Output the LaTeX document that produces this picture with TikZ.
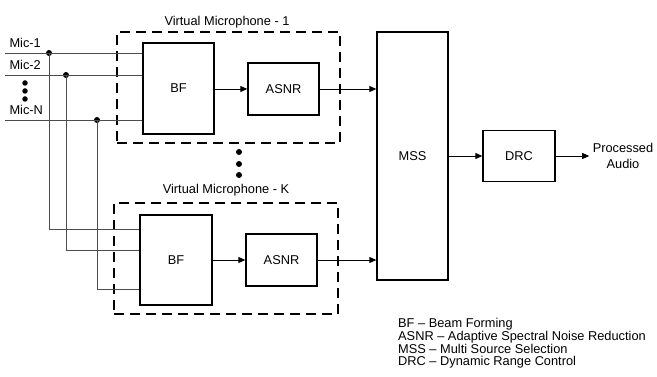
\documentclass[tikz,border=0pt]{standalone}
\usepackage{fontspec}
\setmainfont{Liberation Sans}
\usetikzlibrary{arrows.meta}

\begin{document}
\begin{tikzpicture}[x=1pt,y=-1pt,
        font=\fontsize{12.8}{11.8}\selectfont,
        block/.style={draw, line width=1.3pt, inner sep=0pt},
        vmbox/.style={draw, line width=1.6pt, dash pattern=on 10pt off 6pt, inner sep=0pt},
        wire/.style={line width=0.8pt, draw=black!70},
        sig/.style={line width=0.9pt, -{Triangle[length=7pt,width=6pt]}},
        junc/.style={circle, fill, inner sep=0pt, minimum size=6pt}]
        \useasboundingbox (0,0) rectangle (657,377);
        \node [vmbox, minimum width=223pt, minimum height=111pt] (vm1) at (228.5,87.5) {};
        \node [anchor=base] (vm1t) at (227,25.5) {Virtual Microphone - 1};
        \node [block, minimum width=71pt, minimum height=91pt] (bf1) at (178.5,88.5) {BF};
        \node [block, minimum width=71pt, minimum height=52pt] (asnr1) at (283.5,89) {ASNR};
        \node [vmbox, minimum width=224pt, minimum height=111pt] (vmk) at (226,258.5) {};
        \node [anchor=base] (vmkt) at (226,194) {Virtual Microphone - K};
        \node [block, minimum width=72pt, minimum height=90pt] (bfk) at (176,260) {BF};
        \node [block, minimum width=71pt, minimum height=52pt] (asnrk) at (281.5,260) {ASNR};
        \node [block, minimum width=71pt, minimum height=248pt] (mss) at (412.5,156) {MSS};
        \node [block, minimum width=72pt, minimum height=51pt] (drc) at (519,156) {DRC};
        \node [align=center, font=\fontsize{12.8}{16}\selectfont] (out) at (623,156) {Processed\\Audio};
        \coordinate (m1) at (5,53);
        \coordinate (m2) at (5,75);
        \coordinate (mn) at (5,120);
        \node [anchor=base west] (l1) at (6,48) {Mic-1};
        \node [anchor=base west] (l2) at (6,70) {Mic-2};
        \node [anchor=base west] (ln) at (6,115) {Mic-N};
        \node [junc, minimum size=5.5pt] (d1) at (25,83) {};
        \node [junc, minimum size=5.5pt] (d2) at (25,91) {};
        \node [junc, minimum size=5.5pt] (d3) at (25,99) {};
        \node [junc] (j1) at (49,53) {};
        \node [junc] (j2) at (66,75) {};
        \node [junc] (jn) at (97,120) {};
        \node [junc] (v1) at (239,152) {};
        \node [junc] (v2) at (239,164) {};
        \node [junc] (v3) at (239,175) {};
        \draw [wire] (m1) -- (m1 -| bf1.west);
        \draw [wire] (m2) -- (m2 -| bf1.west);
        \draw [wire] (mn) -- (mn -| bf1.west);
        \draw [wire] (j1.center) |- ([yshift=31pt]bfk.west);
        \draw [wire] (j2.center) |- ([yshift=10pt]bfk.west);
        \draw [wire] (jn.center) |- ([yshift=-29pt]bfk.west);
        \draw [sig] (asnr1.west -| bf1.east) -- (asnr1.west);
        \draw [sig] (asnr1.east) -- (asnr1.east -| mss.west);
        \draw [sig] (asnrk.west -| bfk.east) -- (asnrk.west);
        \draw [sig] (asnrk.east) -- (asnrk.east -| mss.west);
        \draw [sig] (drc.west -| mss.east) -- (drc.west);
        \draw [sig] (drc.east) -- (out.west);
        \node [anchor=north west, align=left, inner sep=0pt] (key) at (398,318)
            {BF – Beam Forming\\ASNR – Adaptive Spectral Noise Reduction\\MSS – Multi Source Selection\\DRC – Dynamic Range Control};
    \end{tikzpicture}
\end{document}
